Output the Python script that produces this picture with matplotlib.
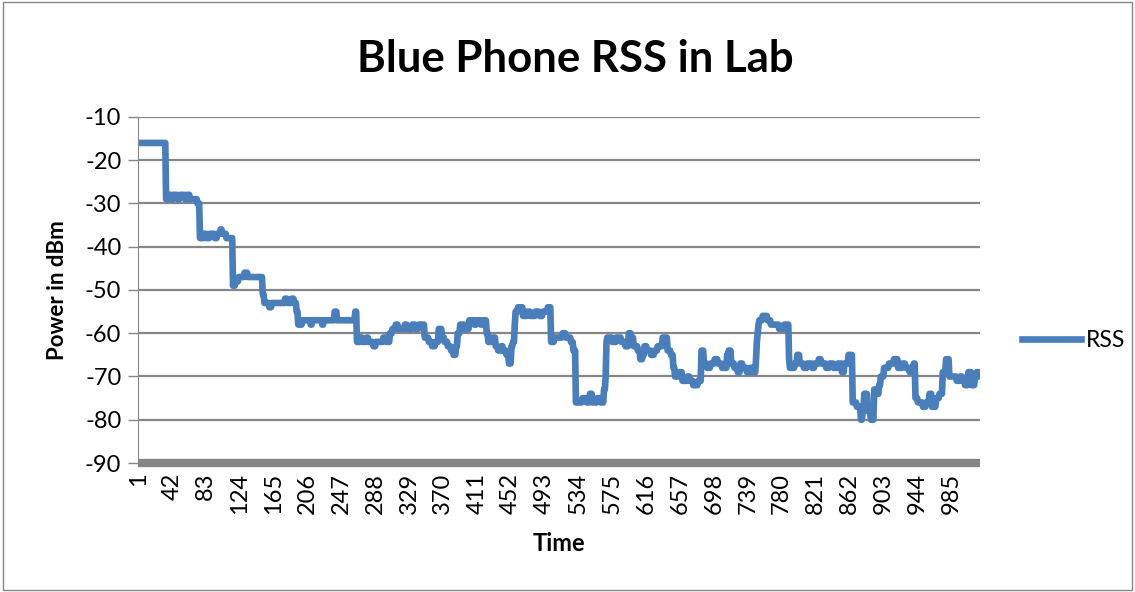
import numpy as np
import matplotlib.pyplot as plt
from matplotlib.patches import Rectangle

plt.rcParams['font.family'] = ['Lato', 'DejaVu Sans']
plt.rcParams['axes.unicode_minus'] = False

# RSS readings (dBm), stored as runs: value and how many samples it holds
rss_values = [
    -16,
    -29, -28, -29, -28, -29, -28, -29, -28, -29, -29, -30,
    -38, -37, -38, -37, -38, -37, -36, -37, -38,
    -49, -48, -47, -46, -47,
    -51, -53, -54, -53, -52, -53, -52, -53,
    -55, -58, -58, -57, -58, -57, -58, -57, -55, -57, -55,
    -62, -61, -62, -61, -62, -63, -62, -62, -61, -62,
    -60, -59, -58, -59, -58, -59, -58, -59, -58,
    -61, -62, -63, -62, -59, -61, -62, -63, -64, -65, -63, -60,
    -58, -59, -57, -58, -57, -58, -57,
    -60, -62, -61, -63, -64, -63, -64, -65, -67, -63, -62,
    -58, -55, -54, -56, -55, -56, -55, -56, -55, -54, -62,
    -61, -60, -61, -62, -64,
    -76, -75, -76, -74, -76, -75, -76, -73,
    -70, -62, -61, -62, -61, -62, -63, -60, -61, -63, -64, -66,
    -65, -63, -64, -65, -64, -63, -61, -64, -65, -68, -70,
    -70, -69, -71, -70, -71, -72, -71,
    -71, -64, -67, -68, -67, -66, -67, -68, -65, -64,
    -67, -68, -69, -67, -68, -69, -68, -69,
    -66, -62, -60, -58, -57, -56, -57, -58, -59, -58, -66, -68,
    -68, -67, -65, -67, -68, -67, -68, -67, -66, -67, -68, -67, -68, -67,
    -67, -69, -67, -65, -76, -77, -80, -78, -74, -78, -80, -73, -74, -72,
    -70, -68, -67, -66, -68, -67, -68, -69, -68, -67,
    -75, -76, -77, -76, -74, -77, -75, -74, -69, -66, -70,
    -70, -71, -70, -71, -72, -69, -72, -70, -69, -70, -69,
]
rss_counts = [
    34,
    4, 3, 2, 5, 3, 6, 2, 4, 5, 4, 3,
    5, 3, 4, 6, 3, 4, 2, 5, 8,
    3, 4, 7, 4, 18,
    2, 6, 3, 16, 3, 5, 3, 3,
    2, 3, 2, 10, 2, 12, 2, 13, 3, 22, 2,
    4, 3, 5, 2, 6, 3, 4, 5, 4, 4,
    3, 4, 3, 8, 3, 6, 4, 4, 7,
    5, 4, 4, 4, 4, 3, 4, 4, 3, 3, 2, 3,
    5, 6, 6, 3, 5, 3, 4,
    2, 4, 5, 3, 4, 2, 4, 3, 3, 2, 2,
    1, 3, 6, 5, 4, 6, 5, 4, 6, 4, 4,
    10, 4, 6, 3, 3,
    8, 5, 4, 3, 6, 4, 4, 2,
    1, 1, 6, 5, 6, 5, 4, 3, 3, 5, 3, 3,
    2, 3, 5, 4, 4, 6, 6, 4, 3, 2, 2,
    3, 4, 6, 3, 4, 6, 2,
    2, 3, 4, 4, 5, 4, 5, 6, 2, 3,
    4, 4, 3, 3, 5, 4, 4, 3,
    1, 1, 1, 1, 4, 6, 4, 10, 6, 6, 1, 1,
    5, 3, 3, 5, 4, 6, 3, 5, 3, 6, 4, 5, 5, 3,
    2, 3, 5, 5, 5, 5, 2, 2, 4, 4, 4, 4, 2, 2,
    4, 6, 6, 5, 5, 4, 5, 2, 3, 2,
    3, 6, 4, 4, 3, 5, 4, 4, 4, 4, 4,
    5, 4, 3, 3, 4, 4, 4, 2, 2, 1, 2,
]

rss = np.repeat(rss_values, rss_counts)
time = np.arange(1, len(rss) + 1)

fig = plt.figure(figsize=(11.35, 5.92), dpi=100)
ax = fig.add_axes([0.1216, 0.2179, 0.7418, 0.5845])

ax.plot(time, rss, color='#4A7EBB', lw=4.8, label='RSS', solid_joinstyle='round')

ax.set_xlim(1, len(rss))
ax.set_ylim(-90, -10)
ax.set_yticks(range(-90, 0, 10))
ax.set_xticks(range(1, len(rss) + 1, 41))
ax.tick_params(axis='x', labelrotation=90, length=0, labelsize=17, pad=7)
ax.tick_params(axis='y', labelsize=17, length=7, color='#868686', width=1, pad=5)

ax.yaxis.grid(True, color='#868686', lw=1.6)
ax.set_axisbelow(True)
for s in ['top', 'right']:
    ax.spines[s].set_visible(False)
ax.spines['left'].set_color('#868686')
ax.spines['bottom'].set_color('#868686')
ax.spines['bottom'].set_linewidth(6)
ax.spines['bottom'].set_capstyle('butt')

ax.set_xlabel('Time', fontsize=17, fontweight='bold', labelpad=13)
ax.set_ylabel('Power in dBm', fontsize=16, fontweight='bold', labelpad=12)
fig.text(0.5066, 0.9, 'Blue Phone RSS in Lab', fontsize=31.5, fontweight='bold',
         ha='center', va='center')

ax.legend(loc='center left', bbox_to_anchor=(0.882, 0.424), bbox_transform=fig.transFigure,
          frameon=False, fontsize=16.5, handlelength=2.6, handletextpad=0.2)

fig.patches.append(Rectangle((0.003, 0.003), 0.994, 0.994, transform=fig.transFigure,
                             fill=False, edgecolor='#868686', lw=1))

fig.savefig('out.png', dpi=100)
